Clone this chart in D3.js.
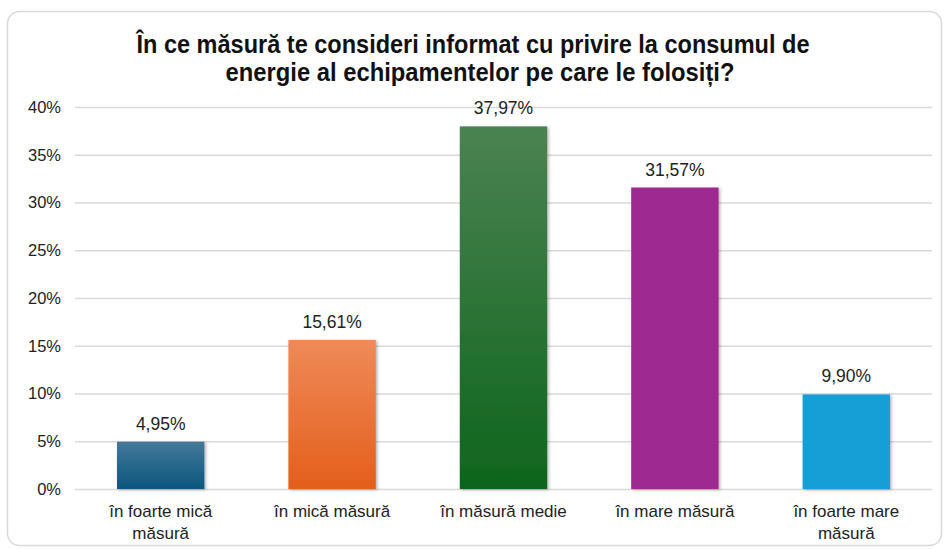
<!DOCTYPE html>
<html><head><meta charset="utf-8">
<script src="https://cdn.jsdelivr.net/npm/d3@7/dist/d3.min.js"></script>
<style>body{margin:0;background:#fff}svg{display:block}</style>
</head><body>
<svg id="c" width="944" height="549"></svg>
<script>
const categories = [["în foarte mică","măsură"],["în mică măsură"],["în măsură medie"],["în mare măsură"],["în foarte mare","măsură"]];
const values = [4.95, 15.61, 37.97, 31.57, 9.90];
const valueLabels = ["4,95%","15,61%","37,97%","31,57%","9,90%"];
const yTicks = [0,5,10,15,20,25,30,35,40];
const titleLines = ["În ce măsură te consideri informat cu privire la consumul de","energie al echipamentelor pe care le folosiți?"];
const colorsTop = ["#45789a","#ef8a58","#4b8252","#9e2b8f","#129fd6"];
const colorsBot = ["#0a577d","#e35f1b","#0e651c","#9e2b8f","#129fd6"];

const svg = d3.select("#c");
const font = "'Liberation Sans', Arial, sans-serif";
svg.append("rect").attr("x",7.5).attr("y",11.5).attr("width",934).attr("height",534).attr("rx",12)
  .attr("fill","#fff").attr("stroke","#d9d9d9").attr("stroke-width",1.5);

const defs = svg.append("defs");
values.forEach((v,i)=>{
  const g = defs.append("linearGradient").attr("id","g"+i).attr("x1",0).attr("y1",0).attr("x2",0).attr("y2",1);
  g.append("stop").attr("offset","0%").attr("stop-color",colorsTop[i]);
  g.append("stop").attr("offset","100%").attr("stop-color",colorsBot[i]);
});
const f = defs.append("filter").attr("id","sh").attr("x","-10%").attr("y","-10%").attr("width","130%").attr("height","130%");
f.append("feDropShadow").attr("dx",1.5).attr("dy",1).attr("stdDeviation",1.5).attr("flood-color","#000").attr("flood-opacity",0.3);

const L=75, R=932, T=107, B=489;
const x = d3.scaleBand().domain(d3.range(categories.length)).range([L,R]).paddingInner(0.49).paddingOuter(0.245);
const y = d3.scaleLinear().domain([0,40]).range([B,T]);

const gy = svg.append("g").attr("transform",`translate(${L},0)`)
  .call(d3.axisLeft(y).tickValues(yTicks).tickSize(-(R-L)).tickPadding(14).tickFormat(d=>d+"%"));
gy.select(".domain").remove();
gy.selectAll(".tick line").attr("stroke","#d9d9d9").attr("stroke-width",1.5);
gy.selectAll(".tick text").attr("font-family",font).attr("font-size",16.5).attr("fill","#222");

svg.append("g").selectAll("rect").data(values).join("rect")
  .attr("x",(d,i)=>x(i)).attr("width",x.bandwidth())
  .attr("y",d=>y(d)).attr("height",d=>B-y(d))
  .attr("fill",(d,i)=>`url(#g${i})`).attr("filter","url(#sh)");

svg.append("g").selectAll("text").data(values).join("text")
  .attr("x",(d,i)=>x(i)+x.bandwidth()/2).attr("y",d=>y(d)-12)
  .attr("text-anchor","middle").attr("font-family",font).attr("font-size",17.5).attr("fill","#222")
  .text((d,i)=>valueLabels[i]);

const gx = svg.append("g").attr("transform",`translate(0,${B})`)
  .call(d3.axisBottom(x).tickSize(0).tickFormat(""));
gx.select(".domain").remove();
categories.forEach((c,i)=>{
  const t = svg.append("text").attr("x",x(i)+x.bandwidth()/2).attr("y",517)
    .attr("text-anchor","middle").attr("font-family",font).attr("font-size",17).attr("fill","#222");
  c.forEach((s,j)=>t.append("tspan").attr("x",x(i)+x.bandwidth()/2).attr("dy",j?22:0).text(s));
});

const titleWidths = [673, 509];
const titleX = [473, 480];
titleLines.forEach((s,j)=>svg.append("text").attr("text-anchor","middle")
  .attr("font-family","'Liberation Sans Narrow', 'Arial Narrow', "+font)
  .attr("font-weight","bold").attr("font-size",25).attr("fill","#111")
  .attr("x",titleX[j]).attr("y",53+j*28)
  .attr("textLength",titleWidths[j]).attr("lengthAdjust","spacingAndGlyphs").text(s));
</script>
</body></html>
